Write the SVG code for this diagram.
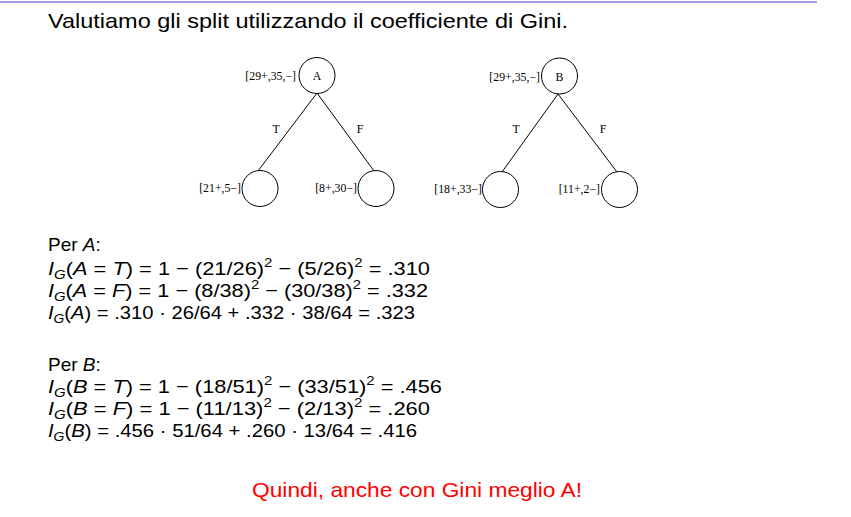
<svg xmlns="http://www.w3.org/2000/svg" width="851" height="517" viewBox="0 0 851 517">
<style>
.title{font-family:"Liberation Sans",Arial,sans-serif;font-size:21px;fill:#000}
.math{font-family:"Liberation Sans",Arial,sans-serif;font-size:19px;fill:#000}
.it{font-style:italic}
.sub{font-size:13px;font-style:italic}
.sup{font-size:13px}
.lbl{font-family:"Liberation Serif","Times New Roman",serif;font-size:11.8px;fill:#000}
.node{fill:#fff;stroke:#000;stroke-width:1}
.edge{stroke:#000;stroke-width:1;fill:none}
.red{font-family:"Liberation Sans",Arial,sans-serif;font-size:21px;fill:#ff0000}
</style>
<rect width="851" height="517" fill="#fff"/>
<line x1="0" y1="2" x2="817" y2="2" stroke="#9f9fdf" stroke-width="2"/>
<text class="title" x="48" y="28" textLength="520" lengthAdjust="spacingAndGlyphs">Valutiamo gli split utilizzando il coefficiente di Gini.</text>

<g id="connectors">
<line class="edge" x1="317" y1="93" x2="258" y2="171"/>
<line class="edge" x1="317" y1="93" x2="374" y2="171"/>
<line class="edge" x1="558" y1="94" x2="502" y2="172"/>
<line class="edge" x1="558" y1="94" x2="617" y2="172"/>
<text class="lbl" x="276" y="133" text-anchor="middle">T</text>
<text class="lbl" x="360" y="133" text-anchor="middle">F</text>
<text class="lbl" x="516" y="133" text-anchor="middle">T</text>
<text class="lbl" x="603" y="133" text-anchor="middle">F</text>
</g>

<g id="nodeA">
<circle class="node" cx="317" cy="75.5" r="18"/>
<text class="lbl" x="317" y="80" text-anchor="middle">A</text>
<text class="lbl" x="296" y="80" text-anchor="end">[29+,35,−]</text>
</g>
<g id="nodeA_T">
<circle class="node" cx="260" cy="188.5" r="18"/>
<text class="lbl" x="241" y="192" text-anchor="end">[21+,5−]</text>
</g>
<g id="nodeA_F">
<circle class="node" cx="376" cy="188.5" r="18"/>
<text class="lbl" x="357" y="192" text-anchor="end">[8+,30−]</text>
</g>

<g id="nodeB">
<circle class="node" cx="559.5" cy="76" r="18"/>
<text class="lbl" x="559.5" y="81" text-anchor="middle">B</text>
<text class="lbl" x="540" y="81" text-anchor="end">[29+,35,−]</text>
</g>
<g id="nodeB_T">
<circle class="node" cx="500.5" cy="189.5" r="18"/>
<text class="lbl" x="482" y="193" text-anchor="end">[18+,33−]</text>
</g>
<g id="nodeB_F">
<circle class="node" cx="619.5" cy="189.5" r="18"/>
<text class="lbl" x="600" y="193" text-anchor="end">[11+,2−]</text>
</g>

<text class="math" x="48" y="251">Per <tspan class="it">A</tspan>:</text>
<text class="math" x="48" y="275" textLength="382" lengthAdjust="spacingAndGlyphs"><tspan class="it">I</tspan><tspan class="sub" dy="4">G</tspan><tspan dy="-4">(</tspan><tspan class="it">A</tspan> = <tspan class="it">T</tspan>) = 1 − (21/26)<tspan class="sup" dy="-8">2</tspan><tspan dy="8"> − (5/26)</tspan><tspan class="sup" dy="-8">2</tspan><tspan dy="8"> = .310</tspan></text>
<text class="math" x="48" y="297" textLength="380" lengthAdjust="spacingAndGlyphs"><tspan class="it">I</tspan><tspan class="sub" dy="4">G</tspan><tspan dy="-4">(</tspan><tspan class="it">A</tspan> = <tspan class="it">F</tspan>) = 1 − (8/38)<tspan class="sup" dy="-8">2</tspan><tspan dy="8"> − (30/38)</tspan><tspan class="sup" dy="-8">2</tspan><tspan dy="8"> = .332</tspan></text>
<text class="math" x="48" y="319" textLength="367" lengthAdjust="spacingAndGlyphs"><tspan class="it">I</tspan><tspan class="sub" dy="4">G</tspan><tspan dy="-4">(</tspan><tspan class="it">A</tspan>) = .310 · 26/64 + .332 · 38/64 = .323</text>

<text class="math" x="48" y="371">Per <tspan class="it">B</tspan>:</text>
<text class="math" x="48" y="393" textLength="394" lengthAdjust="spacingAndGlyphs"><tspan class="it">I</tspan><tspan class="sub" dy="4">G</tspan><tspan dy="-4">(</tspan><tspan class="it">B</tspan> = <tspan class="it">T</tspan>) = 1 − (18/51)<tspan class="sup" dy="-8">2</tspan><tspan dy="8"> − (33/51)</tspan><tspan class="sup" dy="-8">2</tspan><tspan dy="8"> = .456</tspan></text>
<text class="math" x="48" y="415" textLength="382" lengthAdjust="spacingAndGlyphs"><tspan class="it">I</tspan><tspan class="sub" dy="4">G</tspan><tspan dy="-4">(</tspan><tspan class="it">B</tspan> = <tspan class="it">F</tspan>) = 1 − (11/13)<tspan class="sup" dy="-8">2</tspan><tspan dy="8"> − (2/13)</tspan><tspan class="sup" dy="-8">2</tspan><tspan dy="8"> = .260</tspan></text>
<text class="math" x="48" y="437" textLength="369" lengthAdjust="spacingAndGlyphs"><tspan class="it">I</tspan><tspan class="sub" dy="4">G</tspan><tspan dy="-4">(</tspan><tspan class="it">B</tspan>) = .456 · 51/64 + .260 · 13/64 = .416</text>

<text class="red" x="252" y="497" textLength="330" lengthAdjust="spacingAndGlyphs">Quindi, anche con Gini meglio A!</text>
</svg>
